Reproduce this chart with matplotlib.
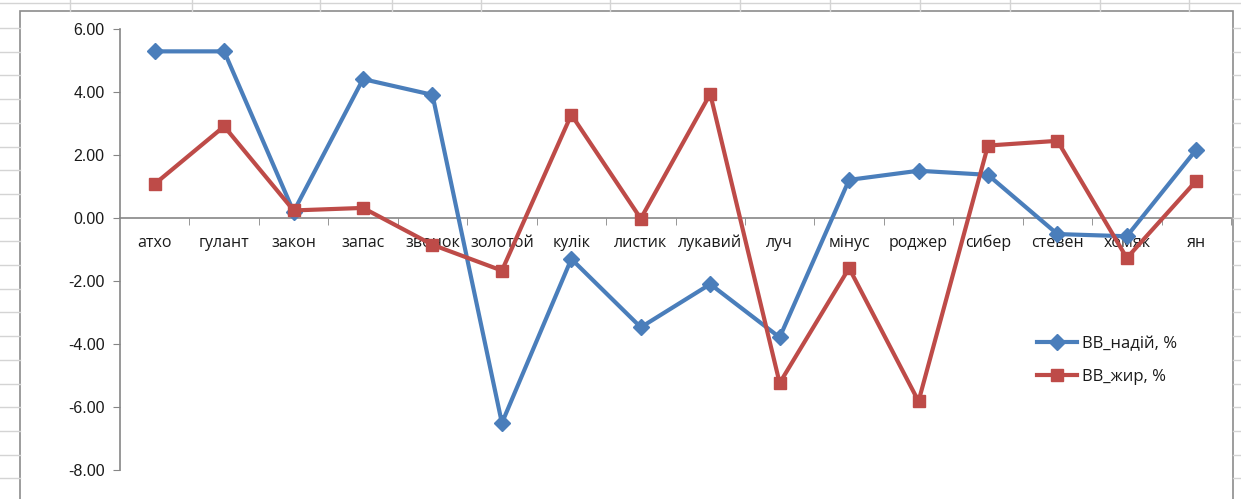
import matplotlib
matplotlib.use("Agg")
import matplotlib.pyplot as plt
from matplotlib.lines import Line2D
from matplotlib.patches import Rectangle
import numpy as np

categories = ["атхо", "гулант", "закон", "запас", "звонок", "золотой", "кулік", "листик",
              "лукавий", "луч", "мінус", "роджер", "сибер", "стевен", "хомяк", "ян"]
vv_nadiy = [5.29, 5.29, 0.20, 4.41, 3.91, -6.51, -1.30, -3.47,
            -2.10, -3.79, 1.21, 1.50, 1.37, -0.51, -0.58, 2.17]
vv_zhyr = [1.08, 2.91, 0.24, 0.32, -0.85, -1.67, 3.28, -0.02,
           3.94, -5.24, -1.59, -5.82, 2.30, 2.45, -1.27, 1.18]
y_ticks = [-8, -6, -4, -2, 0, 2, 4, 6]

W, H = 1241, 499
fig = plt.figure(figsize=(W/100, H/100), dpi=100)
fig.patch.set_facecolor("white")

# spreadsheet background grid lines
gc = "#d4d4d4"
for xv in [70, 192, 320, 392, 481, 610, 740, 830, 920, 1010, 1100, 1189]:
    fig.add_artist(Line2D([xv/W, xv/W], [1, 1 - 11/H], color=gc, lw=1))
fig.add_artist(Line2D([0, 1], [1 - 3/H, 1 - 3/H], color=gc, lw=1))
for yv in np.arange(28, 499, 23.7):
    fig.add_artist(Line2D([0, 20/W], [1 - yv/H, 1 - yv/H], color=gc, lw=1))
    fig.add_artist(Line2D([1233/W, 1], [1 - yv/H, 1 - yv/H], color=gc, lw=1))
# chart border
fig.add_artist(Rectangle((20/W, -0.01), (1233-20)/W, 1 - 11/H + 0.01,
                         fill=True, facecolor="white", edgecolor="#8c8c8c", lw=1.2, zorder=0))

ax = fig.add_axes([120/W, 29/H, (1231-120)/W, (470-29)/H])
ax.set_facecolor("none")
x = np.arange(len(categories))
ax.plot(x, vv_nadiy, color="#4A7EBB", lw=3.0, marker="D", markersize=8,
        label="ВВ_надій, %", zorder=3, solid_joinstyle="round")
ax.plot(x, vv_zhyr, color="#BE4B48", lw=3.0, marker="s", markersize=9,
        label="ВВ_жир, %", zorder=3, solid_joinstyle="round")

ax.set_xlim(-0.5, len(categories) - 0.5)
ax.set_ylim(-8, 6)
ax.set_yticks(y_ticks)
ax.set_yticklabels([f"{v:.2f}" for v in y_ticks], fontsize=11.5,
                   family=["Liberation Sans", "DejaVu Sans"], color="#1a1a1a")
ax.tick_params(axis="y", direction="out", length=5, color="#868686", pad=6)

ax.spines["top"].set_visible(False)
ax.spines["right"].set_visible(False)
ax.spines["left"].set_color("#868686")
ax.spines["bottom"].set_color("#868686")
ax.spines["left"].set_linewidth(1.2)
ax.spines["bottom"].set_linewidth(1.2)
ax.spines["bottom"].set_position(("data", 0))

ax.set_xticks(x)
ax.set_xticklabels(categories, fontsize=11.5, family=["Open Sans", "DejaVu Sans"], color="#1a1a1a")
ax.tick_params(axis="x", which="major", length=0, pad=21)
for lbl in ax.get_xticklabels():
    lbl.set_verticalalignment("baseline")
ax.set_xticks(np.arange(0, len(categories)) + 0.5, minor=True)
ax.tick_params(axis="x", which="minor", direction="out", length=5, color="#868686")

leg = ax.legend(loc="upper left", bbox_to_anchor=((1030-120)/(1231-120), 1 - (329-29)/(470-29)),
                frameon=False, handlelength=2.4, labelspacing=1.05,
                prop={"family": ["Open Sans", "DejaVu Sans"], "size": 12}, borderaxespad=0,
                handletextpad=0.3)
for t in leg.get_texts():
    t.set_color("#1a1a1a")

fig.savefig("out.png", dpi=100)
